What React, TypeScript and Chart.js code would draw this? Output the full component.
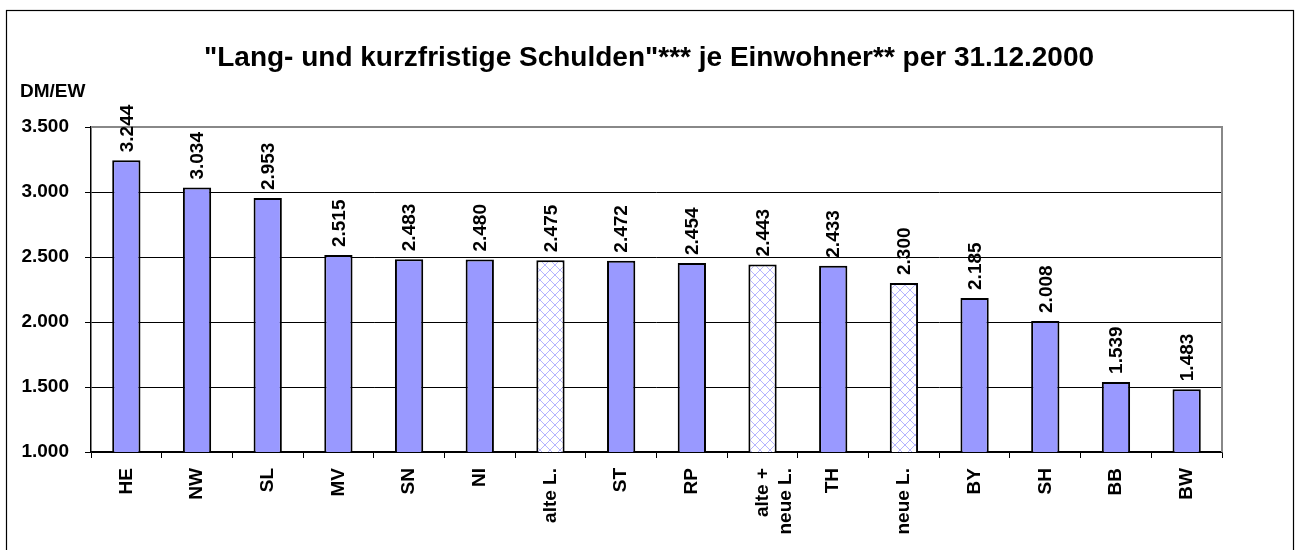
import React, { useEffect, useRef } from "react";
import { Chart, registerables } from "chart.js";

Chart.register(...registerables);

const categories: (string | string[])[] = [
  "HE", "NW", "SL", "MV", "SN", "NI", "alte L.", "ST", "RP",
  ["alte +", "neue L."], "TH", "neue L.", "BY", "SH", "BB", "BW",
];
const values: number[] = [
  3244, 3034, 2953, 2515, 2483, 2480, 2475, 2472, 2454, 2443, 2433, 2300, 2185, 2008, 1539, 1483,
];
const hatched: boolean[] = [
  false, false, false, false, false, false, true, false, false, true, false, true, false, false, false, false,
];
const yTicks: number[] = [1000, 1500, 2000, 2500, 3000, 3500];
const titleText = '"Lang- und kurzfristige Schulden"*** je Einwohner** per 31.12.2000';
const unitText = "DM/EW";

const FONT = "'Liberation Sans', Arial, sans-serif";
const fmt = (v: number) => v.toLocaleString("de-DE");

function makePattern(): CanvasPattern | string {
  const c = document.createElement("canvas");
  const s = 10;
  c.width = s;
  c.height = s;
  const g = c.getContext("2d");
  if (!g) return "#ffffff";
  g.fillStyle = "#ffffff";
  g.fillRect(0, 0, s, s);
  g.fillStyle = "#b4b4ff";
  for (let i = 0; i < s; i++) {
    g.fillRect(i, i, 1, 1);
    g.fillRect(s - 1 - i, i, 1, 1);
  }
  const p = g.createPattern(c, "repeat");
  return p || "#ffffff";
}

export default function App() {
  const ref = useRef<HTMLCanvasElement>(null);
  useEffect(() => {
    if (!ref.current) return;
    const pattern = makePattern();
    const decor = {
      id: "decor",
      beforeDraw(chart: any) {
        const ctx = chart.ctx;
        ctx.save();
        ctx.fillStyle = "#ffffff";
        ctx.fillRect(0, 0, chart.width, chart.height);
        ctx.strokeStyle = "#000000";
        ctx.lineWidth = 1.2;
        ctx.strokeRect(6.5, 10.5, 1287, 600);
        ctx.fillStyle = "#000000";
        ctx.font = `bold 28px ${FONT}`;
        ctx.textAlign = "center";
        ctx.textBaseline = "alphabetic";
        ctx.fillText(titleText, 649, 66);
        ctx.font = `bold 19px ${FONT}`;
        ctx.textAlign = "left";
        ctx.fillText(unitText, 20, 97);
        ctx.restore();
      },
      afterDraw(chart: any) {
        const ctx = chart.ctx;
        const a = chart.chartArea;
        ctx.save();
        ctx.strokeStyle = "#888888";
        ctx.lineWidth = 2;
        ctx.beginPath();
        ctx.moveTo(a.left, a.top);
        ctx.lineTo(a.right, a.top);
        ctx.lineTo(a.right, a.bottom);
        ctx.stroke();
        const meta = chart.getDatasetMeta(0);
        ctx.fillStyle = "#000000";
        ctx.font = `bold 19px ${FONT}`;
        ctx.textAlign = "left";
        ctx.textBaseline = "middle";
        meta.data.forEach((bar: any, i: number) => {
          ctx.save();
          ctx.translate(bar.x, bar.y - 8);
          ctx.rotate(-Math.PI / 2);
          ctx.fillText(fmt(values[i]), 0, 1);
          ctx.restore();
        });
        ctx.restore();
      },
    };
    const chart = new Chart(ref.current, {
      type: "bar",
      data: {
        labels: categories,
        datasets: [
          {
            data: values,
            backgroundColor: values.map((_, i) => (hatched[i] ? pattern : "#9999ff")) as any,
            borderColor: "#000000",
            borderWidth: 2,
            borderSkipped: false,
            barPercentage: 0.4,
            categoryPercentage: 1,
          },
        ],
      },
      options: {
        responsive: false,
        animation: false,
        layout: { padding: { top: 127, left: 0, right: 76, bottom: 0 } },
        plugins: {
          legend: { display: false },
          title: { display: false },
          tooltip: { enabled: false },
        },
        scales: {
          x: {
            offset: true,
            grid: {
              offset: true,
              drawOnChartArea: false,
              color: "#000000",
              tickLength: 6,
            },
            border: { color: "#000000", width: 1.5 },
            ticks: {
              color: "#000000",
              font: { family: FONT, size: 19, weight: "bold" },
              maxRotation: 90,
              minRotation: 90,
              padding: 10,
              autoSkip: false,
            },
            afterFit(scale: any) {
              scale.height = 98;
            },
          },
          y: {
            min: 1000,
            max: 3500,
            afterBuildTicks(scale: any) {
              scale.ticks = yTicks.map((v) => ({ value: v }));
            },
            grid: {
              color: (c: any) => (c.tick && c.tick.value === 3500 ? "#888888" : "#000000"),
              tickColor: "#000000",
              tickLength: 6,
              lineWidth: 1,
            },
            border: { color: "#000000", width: 1.5 },
            ticks: {
              color: "#000000",
              font: { family: FONT, size: 19, weight: "bold" },
              padding: 16,
              callback: (v: any) => fmt(Number(v)),
            },
            afterFit(scale: any) {
              scale.width = 91;
            },
          },
        },
      },
      plugins: [decor],
    });
    return () => chart.destroy();
  }, []);
  return (
    <div style={{ position: "fixed", left: 0, top: 0, width: 1298, height: 550 }}>
      <canvas ref={ref} width={1298} height={550} style={{ display: "block" }} />
    </div>
  );
}
